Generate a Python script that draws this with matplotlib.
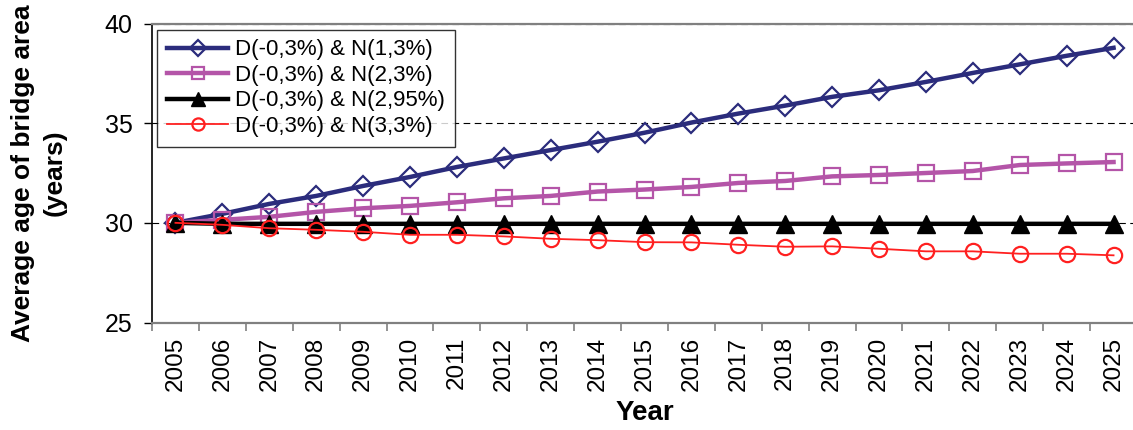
import matplotlib
matplotlib.use("Agg")
import matplotlib.pyplot as plt
import numpy as np

years = list(range(2005, 2026))
labels = ["D(-0,3%) & N(1,3%)", "D(-0,3%) & N(2,3%)", "D(-0,3%) & N(2,95%)", "D(-0,3%) & N(3,3%)"]
s_blue = [30.0, 30.45, 30.95, 31.35, 31.85, 32.3, 32.8, 33.23, 33.65, 34.07, 34.52,
          35.03, 35.48, 35.88, 36.32, 36.65, 37.07, 37.52, 37.95, 38.38, 38.78]
s_pink = [30.0, 30.15, 30.3, 30.55, 30.73, 30.85, 31.03, 31.23, 31.35, 31.57, 31.67,
          31.8, 32.0, 32.1, 32.33, 32.4, 32.5, 32.6, 32.9, 32.98, 33.05]
s_black = [30.0] + [29.95] * 20
s_red = [30.0, 29.9, 29.73, 29.65, 29.55, 29.4, 29.4, 29.32, 29.2, 29.13, 29.03,
         29.02, 28.9, 28.8, 28.82, 28.7, 28.57, 28.57, 28.45, 28.45, 28.37]

plt.rcParams['font.family'] = ['Liberation Sans', 'DejaVu Sans']

fig = plt.figure(figsize=(11.33, 4.30), dpi=100)
ax = fig.add_axes([152/1133, 1 - 322.5/430, (1137 - 152)/1133, (322.5 - 23.5)/430])

x = np.arange(len(years))
ax.plot(x, s_blue, color='#2B2C7C', lw=3.2, marker='D', ms=10, mfc='none', mec='#2B2C7C', mew=1.6, label=labels[0], zorder=3)
ax.plot(x, s_pink, color='#B455A8', lw=3.2, marker='s', ms=11, mfc='none', mec='#B455A8', mew=1.6, label=labels[1], zorder=4)
ax.plot(x, s_black, color='black', lw=3.2, marker='^', ms=13, mfc='black', mec='black', label=labels[2], zorder=5)
ax.plot(x, s_red, color='#FF2020', lw=1.3, marker='o', ms=11, mfc='none', mec='#FF2020', mew=1.6, label=labels[3], zorder=6)

ax.set_xlim(-0.5, len(years) - 0.5)
ax.set_ylim(25, 40)
ax.set_yticks([25, 30, 35, 40])
ax.yaxis.grid(True, color='black', ls=(0, (6, 4)), lw=0.8)
ax.set_axisbelow(True)

ax.set_xticks(x)
ax.set_xticklabels([str(y) for y in years], rotation=90)
ax.set_xticks(np.arange(len(years) + 1) - 0.5, minor=True)
ax.tick_params(axis='x', which='major', length=0, pad=10, labelsize=17.5)
ax.tick_params(axis='x', which='minor', length=6, color='#808080', width=1.2)
ax.tick_params(axis='y', length=6, width=1, pad=8, labelsize=18)

ax.spines['right'].set_visible(False)
ax.spines['top'].set_color('#808080')
ax.spines['top'].set_linewidth(1.6)
ax.spines['bottom'].set_color('#808080')
ax.spines['bottom'].set_linewidth(1.6)
ax.spines['left'].set_color('black')
ax.spines['left'].set_linewidth(1.2)

ax.set_xlabel('Year', fontsize=20, fontweight='bold', labelpad=7)
ax.set_ylabel('Average age of bridge area\n(years)', fontsize=19, fontweight='bold', labelpad=27, linespacing=1.45)

leg = ax.legend(loc='upper left', bbox_to_anchor=(5/985, 1 - 6/299), fontsize=16, handlelength=2.75,
                frameon=True, fancybox=False, edgecolor='black', borderpad=0.45, labelspacing=0.2,
                handletextpad=0.3, borderaxespad=0, markerscale=0.8)
leg.get_frame().set_linewidth(1.0)

fig.savefig('out.png', dpi=100)
